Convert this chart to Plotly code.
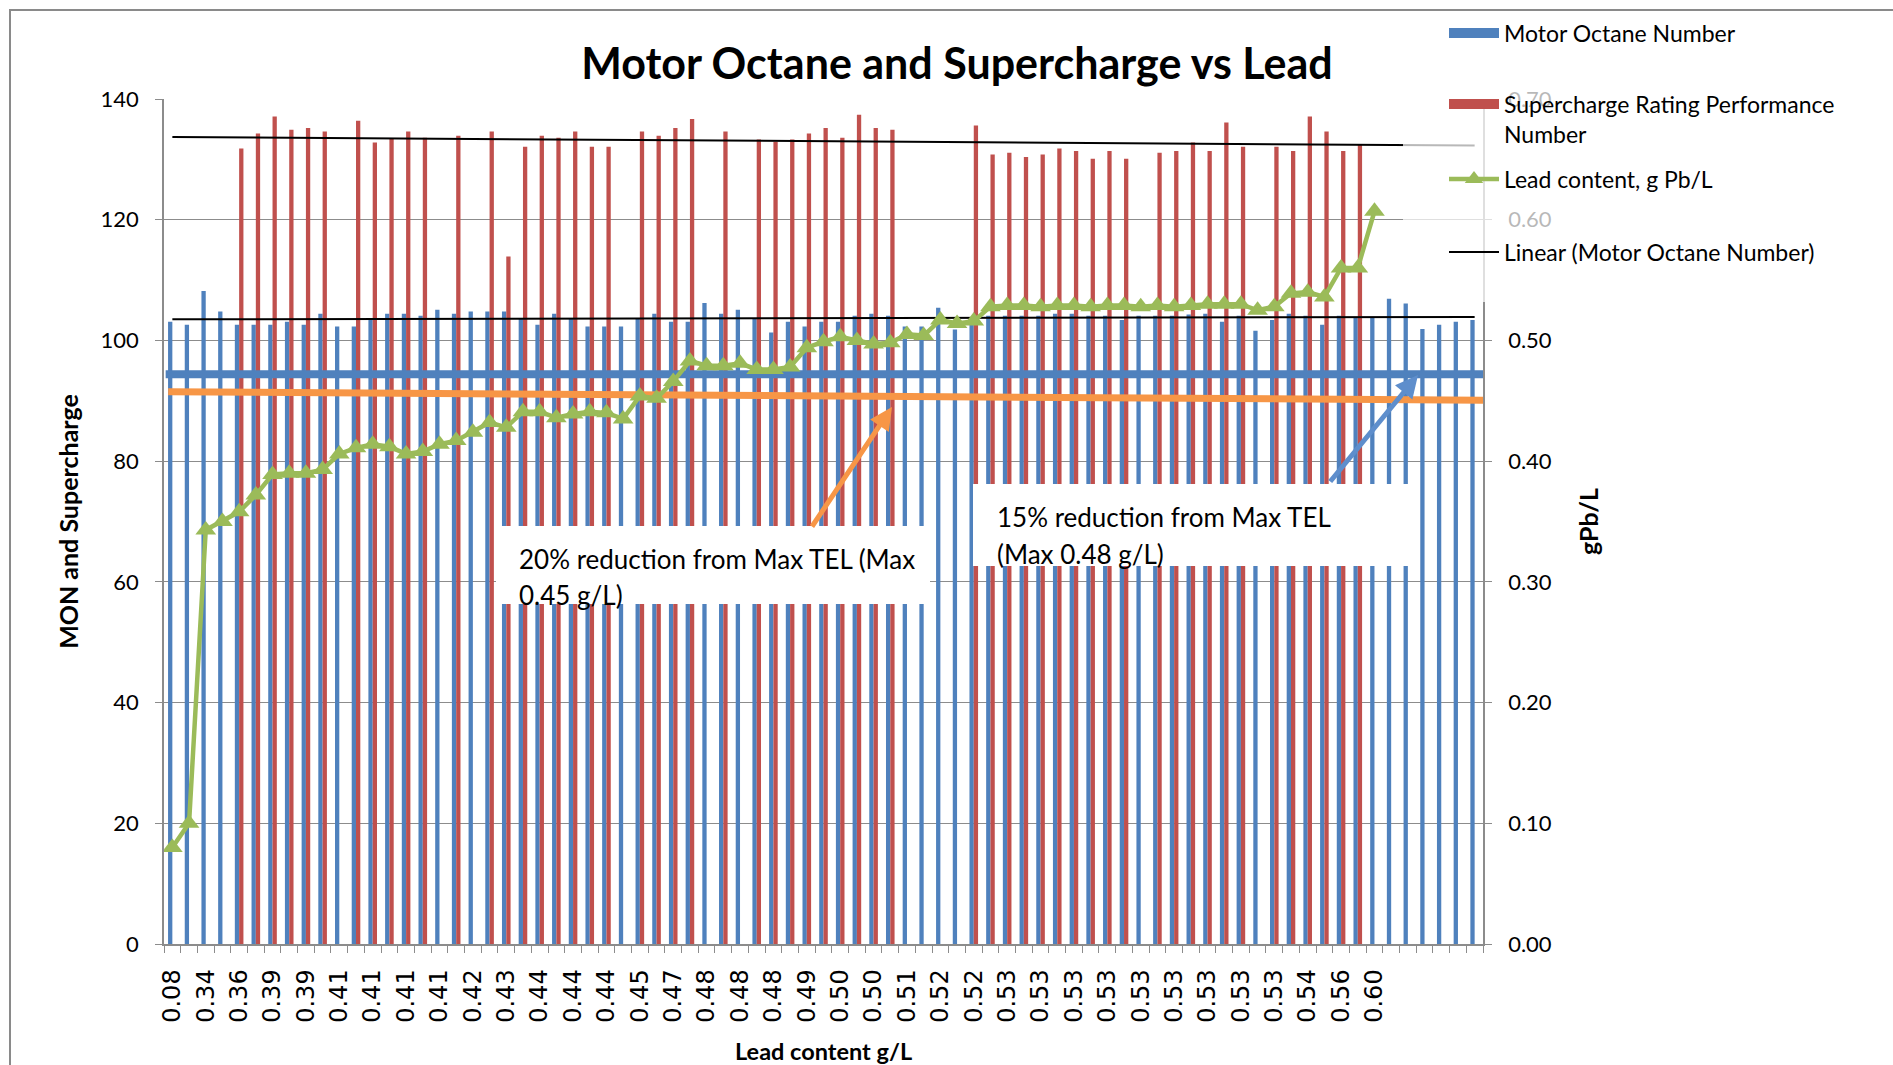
import plotly.graph_objects as go

# one category per sample; every second category carries its lead-content label
tick_labels = ["0.08", "0.34", "0.36", "0.39", "0.39", "0.41", "0.41", "0.41", "0.41",
               "0.42", "0.43", "0.44", "0.44", "0.44", "0.45", "0.47", "0.48", "0.48",
               "0.48", "0.49", "0.50", "0.50", "0.51", "0.52", "0.52", "0.53", "0.53",
               "0.53", "0.53", "0.53", "0.53", "0.53", "0.53", "0.53", "0.54", "0.56", "0.60"]

mon = [103.1, 102.6, 108.2, 104.8, 102.6, 102.6, 102.6, 103.1, 102.6, 104.4,
       102.3, 102.3, 103.6, 104.4, 104.4, 104.1, 105.1, 104.4, 104.8, 104.8,
       104.8, 103.6, 102.6, 104.4, 103.6, 102.3, 102.3, 102.3, 103.6, 104.4,
       103.1, 103.1, 106.2, 104.4, 105.1, 103.6, 101.3, 103.1, 102.3, 103.1,
       103.1, 104.1, 104.4, 104.1, 102.3, 102.3, 105.4, 101.8, 103.0, 104.1,
       104.1, 104.1, 104.1, 104.4, 104.4, 104.1, 104.1, 103.4, 104.1, 104.1,
       104.1, 104.3, 104.4, 103.1, 104.1, 101.6, 103.4, 104.4, 104.1, 102.6,
       104.1, 103.8, 103.8, 106.9, 106.1, 101.9, 102.6, 103.1, 103.4]

supercharge = [None, None, None, None, 131.8, 134.3, 137.1, 134.9, 135.2, 134.6,
               None, 136.4, 132.8, 133.4, 134.6, 133.6, None, 133.9, None, 134.6,
               113.9, 132.1, 133.9, 133.6, 134.6, 132.1, 132.1, None, 134.6, 133.9,
               135.2, 136.7, None, 134.6, None, 133.3, 132.9, 133.3, 134.3, 135.2,
               133.6, 137.4, 135.2, 134.9, None, None, None, None, 135.6, 130.8,
               131.1, 130.4, 130.8, 131.8, 131.4, 130.1, 131.4, 130.1, None, 131.1,
               131.4, 132.8, 131.4, 136.1, 132.1, None, 132.1, 131.4, 137.1, 134.6,
               131.4, 132.4, None, None, None, None, None, None, None]

lead = [0.08, 0.10, 0.343, 0.350, 0.358, 0.372, 0.389, 0.390, 0.390, 0.393,
        0.406, 0.411, 0.414, 0.412, 0.406, 0.408, 0.414, 0.417, 0.424, 0.432,
        0.428, 0.441, 0.441, 0.436, 0.439, 0.441, 0.440, 0.435, 0.454, 0.452,
        0.466, 0.483, 0.479, 0.479, 0.481, 0.476, 0.476, 0.478, 0.494, 0.499,
        0.503, 0.500, 0.497, 0.498, 0.505, 0.504, 0.517, 0.514, 0.516, 0.528,
        0.529, 0.529, 0.528, 0.529, 0.529, 0.528, 0.529, 0.529, 0.528, 0.529,
        0.528, 0.529, 0.530, 0.530, 0.530, 0.525, 0.528, 0.539, 0.540, 0.536,
        0.560, 0.560, 0.607]

# linear trend end points (first / last category)
mon_trend = [103.5, 103.9]
super_trend = [133.7, 132.3]

# hand-drawn reference lines (MON units)
blue_ref = [94.4, 94.4]
orange_ref = [91.5, 90.1]

n = len(mon)
cats = list(range(n))

BLUE = "#4F81BD"
RED = "#C0504D"
GREEN = "#9BBB59"
ORANGE = "#F79646"
GRID = "#8C8C8C"
FONT = "Lato"

# plot area in pixels
L, R, T, B = 164, 1483, 99, 944


def px(x):
    return (x - L) / (R - L)


def py(y):
    return (B - y) / (B - T)


fig = go.Figure()

fig.add_trace(go.Bar(x=cats, y=mon, name="Motor Octane Number", showlegend=False,
                     marker=dict(color=BLUE, line=dict(width=0))))
fig.add_trace(go.Bar(x=cats, y=supercharge, name="Supercharge Rating Performance Number",
                     showlegend=False, marker=dict(color=RED, line=dict(width=0))))

fig.add_trace(go.Scatter(x=[0, n - 1], y=super_trend, mode="lines",
                         line=dict(color="black", width=2), showlegend=False, hoverinfo="skip"))
fig.add_trace(go.Scatter(x=[0, n - 1], y=mon_trend, mode="lines", name="Linear (Motor Octane Number)",
                         line=dict(color="black", width=2), legend="legend4"))

fig.add_trace(go.Scatter(x=[-0.4, n - 0.5], y=blue_ref, mode="lines",
                         line=dict(color=BLUE, width=8), showlegend=False, hoverinfo="skip"))
fig.add_trace(go.Scatter(x=[-0.25, n - 0.5], y=orange_ref, mode="lines",
                         line=dict(color=ORANGE, width=7), showlegend=False, hoverinfo="skip"))

fig.add_trace(go.Scatter(x=cats[:len(lead)], y=lead, yaxis="y2", mode="lines+markers",
                         name="Lead content, g Pb/L", legend="legend3",
                         line=dict(color=GREEN, width=4.5),
                         marker=dict(symbol="triangle-up", size=18, color=GREEN)))

# legend swatches for the bar series (wide rectangles like the original key)
fig.add_trace(go.Scatter(x=[None], y=[None], mode="lines", name="Motor Octane Number",
                         line=dict(color=BLUE, width=16), legend="legend"))
fig.add_trace(go.Scatter(x=[None], y=[None], mode="lines", name="Supercharge Rating Performance<br>Number",
                         line=dict(color=RED, width=16), legend="legend2"))

shapes = [
    # text boxes
    dict(type="rect", xref="paper", yref="paper", x0=px(496), x1=px(930), y0=py(604), y1=py(526),
         fillcolor="white", line=dict(width=0), layer="above"),
    dict(type="rect", xref="paper", yref="paper", x0=px(973), x1=px(1408), y0=py(566), y1=py(484),
         fillcolor="white", line=dict(width=0), layer="above"),
    # legend veil over the upper right corner
    dict(type="rect", xref="paper", yref="paper", x0=px(1403), x1=px(1893), y0=py(302), y1=py(12),
         fillcolor="rgba(255,255,255,0.72)", line=dict(width=0), layer="above"),
    # chart frame
    dict(type="rect", xref="paper", yref="paper", x0=px(10), x1=px(1910), y0=py(1080), y1=py(10),
         fillcolor="rgba(0,0,0,0)", line=dict(color="#8A8A8A", width=2), layer="above"),
]

txt = dict(family=FONT, size=26, color="black")
annotations = [
    dict(text="20% reduction from Max TEL (Max", x=px(517), y=py(559)),
    dict(text="0.45 g/L)", x=px(517), y=py(595)),
    dict(text="15% reduction from Max TEL", x=px(995), y=py(517)),
    dict(text="(Max 0.48 g/L)", x=px(995), y=py(554)),
]
for a in annotations:
    a.update(xref="paper", yref="paper", xanchor="left", yanchor="middle",
             showarrow=False, font=txt)

annotations += [
    dict(text="", x=px(892), y=py(407), xref="paper", yref="paper", ax=-81, ay=121,
         showarrow=True, arrowhead=2, arrowsize=0.9, arrowwidth=5, arrowcolor=ORANGE, standoff=0),
    dict(text="", x=px(1418), y=py(375), xref="paper", yref="paper", ax=-89, ay=108,
         showarrow=True, arrowhead=2, arrowsize=0.9, arrowwidth=5, arrowcolor="#5E8ECC", standoff=0),
]

tickfont = dict(family=FONT, size=22, color="black")
xtickfont = dict(family="DejaVu Sans", size=24, color="black")
legfont = dict(family=FONT, size=23, color="black")


def titlefont(size):
    return dict(family=FONT, size=size, color="black", weight="bold")


# x-axis title sits close to the bottom edge, so place it directly
annotations.append(dict(text="Lead content g/L", x=0.5, y=py(1051), xref="paper", yref="paper",
                        xanchor="center", yanchor="middle", showarrow=False, font=titlefont(23.5)))


def leg(ypix):
    return dict(x=px(1444), y=py(ypix), xanchor="left", yanchor="middle",
                bgcolor="rgba(0,0,0,0)", font=legfont, itemwidth=50, valign="top")


fig.update_layout(
    width=1893, height=1065,
    margin=dict(l=L, r=1893 - R, t=T, b=1065 - B),
    paper_bgcolor="white", plot_bgcolor="white",
    barmode="group", bargap=0.485, bargroupgap=0,
    title=dict(text="Motor Octane and Supercharge vs Lead", x=957 / 1893, xanchor="center",
               y=1 - 64 / 1065, yanchor="middle", font=titlefont(43)),
    xaxis=dict(range=[-0.5, n - 0.5], tickmode="array", tickvals=list(range(0, 2 * len(tick_labels), 2)),
               ticktext=tick_labels, tickangle=-90, ticks="", tickfont=xtickfont, ticklabelstandoff=14,
               showline=True, linecolor=GRID, linewidth=1.5, showgrid=False, zeroline=False,
               automargin=False,
               minor=dict(tickmode="array", tickvals=[i - 0.5 for i in range(n + 1)], ticks="outside",
                          ticklen=7, tickcolor=GRID, tickwidth=1.2, showgrid=False)),
    yaxis=dict(range=[0, 140], dtick=20, showgrid=True, gridcolor=GRID, gridwidth=1.3,
               showline=True, linecolor=GRID, linewidth=1.5, ticks="outside", ticklen=7,
               tickcolor=GRID, tickfont=tickfont, ticklabelstandoff=12, zeroline=False,
               automargin=False,
               title=dict(text="MON and Supercharge", font=titlefont(25), standoff=15)),
    yaxis2=dict(range=[0, 0.7], dtick=0.1, tickformat=".2f", overlaying="y", side="right",
                showgrid=False, showline=True, linecolor=GRID, linewidth=1.5, ticks="outside",
                ticklen=7, tickcolor=GRID, tickfont=tickfont, ticklabelstandoff=12, zeroline=False,
                automargin=False,
                title=dict(text="gPb/L", font=titlefont(25), standoff=30)),
    legend=leg(33), legend2=leg(119), legend3=leg(179), legend4=leg(252),
    shapes=shapes, annotations=annotations,
)

# the page body adds an 8px margin by default; drop it so the figure fills the window
fig.write_html("out.html", config={"displayModeBar": False},
               post_script="document.body.style.margin='0';")
